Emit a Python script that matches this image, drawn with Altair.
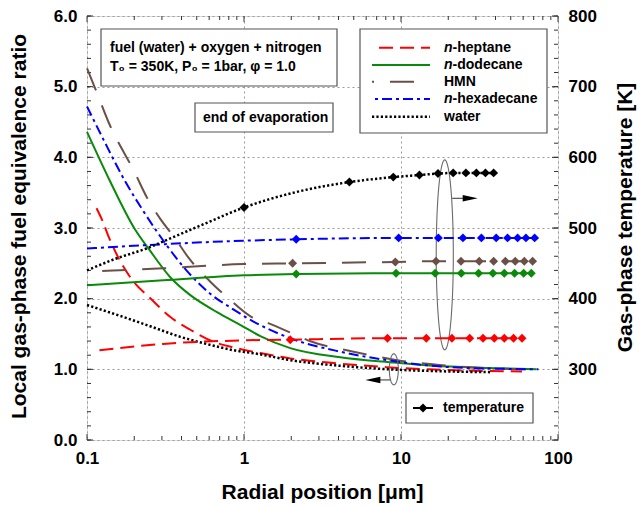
import altair as alt
import numpy as np
import pandas as pd

# ---- local gas-phase fuel equivalence ratio vs radial position [um] ----
heptane_phi_r = [0.115, 0.125, 0.136, 0.161, 0.189, 0.26, 0.34, 0.455, 0.64, 0.9, 1.27, 1.97, 3.9, 8.15, 15, 30, 59]
heptane_phi = [3.28, 3.11, 2.90, 2.55, 2.30, 1.98, 1.74, 1.56, 1.39, 1.30, 1.23, 1.155, 1.085, 1.03, 1.0, 0.98, 0.97]

dodecane_phi_r = [0.1, 0.139, 0.201, 0.25, 0.34, 0.455, 0.673, 0.945, 1.27, 1.97, 4.1, 8.5, 16, 35, 73]
dodecane_phi = [4.36, 3.68, 2.99, 2.69, 2.30, 2.05, 1.81, 1.63, 1.47, 1.30, 1.17, 1.10, 1.05, 1.02, 1.0]

hmn_phi_r = [0.1, 0.113, 0.137, 0.203, 0.241, 0.293, 0.365, 0.443, 0.61, 0.80, 1.1, 1.44, 2.12, 2.71, 4.99, 9.5, 20, 40, 72]
hmn_phi = [5.26, 4.97, 4.50, 3.77, 3.43, 3.13, 2.85, 2.58, 2.24, 2.0, 1.75, 1.65, 1.49, 1.39, 1.25, 1.13, 1.05, 1.01, 1.0]

hexadecane_phi_r = [0.1, 0.128, 0.175, 0.233, 0.328, 0.43, 0.625, 0.84, 1.1, 1.97, 4.1, 8.15, 20.6, 40, 75]
hexadecane_phi = [4.72, 4.24, 3.66, 3.21, 2.73, 2.40, 2.05, 1.86, 1.70, 1.44, 1.25, 1.13, 1.03, 1.01, 1.0]

water_phi_r = [0.1, 0.171, 0.26, 0.393, 0.553, 0.86, 1.21, 1.97, 4.1, 8.5, 20, 38]
water_phi = [1.91, 1.74, 1.60, 1.46, 1.37, 1.27, 1.22, 1.13, 1.05, 1.0, 0.97, 0.96]

# ---- gas-phase temperature [K]: profile points and marked points ----
heptane_T_r = [0.12, 0.306, 1.0]
heptane_T = [327, 336, 341]
heptane_mark_r = [1.97, 8.2, 14.5, 21.1, 27.4, 33.3, 39.3, 45.5, 52.1, 59.0]
heptane_mark_T = [342, 344, 344, 344, 344, 344, 344, 344, 344, 344]

dodecane_T_r = [0.1, 0.306, 1.0]
dodecane_T = [419, 426, 433]
dodecane_mark_r = [2.15, 9.3, 16.5, 24.2, 31.2, 38.5, 45.5, 52.9, 60.4, 67.6]
dodecane_mark_T = [435, 436, 436, 436, 436, 436, 436, 436, 436, 436]

hmn_T_r = [0.125, 0.306, 1.0]
hmn_T = [439, 443, 449]
hmn_mark_r = [2.04, 9.2, 16.7, 24.1, 31.5, 38.9, 46.2, 53.4, 61.0, 68.9]
hmn_mark_T = [450, 452, 453, 453, 453, 453, 453, 453, 453, 453]

hexadecane_T_r = [0.1, 0.306, 0.575, 1.0]
hexadecane_T = [471, 477, 480, 482]
hexadecane_mark_r = [2.15, 9.67, 17.3, 24.8, 32.5, 40.4, 47.7, 55.3, 62.5, 71.0]
hexadecane_mark_T = [484, 486, 486, 486, 486, 486, 486, 486, 486, 486]

water_T_r = [0.1, 0.15, 0.239, 0.371, 0.548, 2.07]
water_T = [440, 456, 471, 489, 505, 550]
water_mark_r = [1.0, 4.69, 8.93, 13.1, 17.2, 21.5, 25.9, 30.2, 34.5, 38.9]
water_mark_T = [529, 565, 572, 575, 577, 578, 578, 578, 578, 578]

W, H = 471, 424
FONT = "Liberation Sans"
X_SCALE = alt.Scale(type="log", domain=[0.1, 100])
PHI_SCALE = alt.Scale(domain=[0, 6])
T_SCALE = alt.Scale(domain=[200, 800])

# ---- axes: every layer shares the same axis definitions ----
label_style = dict(labelFont=FONT, labelFontSize=17, labelFontWeight="bold", labelColor="black",
                   labelFlush=False, labelOverlap=False, ticks=False, tickSize=0, domain=False,
                   titleFont=FONT, titleFontSize=21, titleFontWeight="bold", titleColor="black")

X_AXIS = alt.Axis(values=[0.1, 1, 10, 100], format="~g", labelPadding=10, grid=True,
                  gridDash=[2, 3], gridColor="#9a9a9a", gridWidth=1,
                  title="Radial position [μm]", titleX=235, titleY=52,
                  titleAlign="center", titleBaseline="middle", **label_style)
PHI_AXIS = alt.Axis(values=[0, 1, 2, 3, 4, 5, 6], format=".1f", labelPadding=10, grid=True,
                    gridDash=[2, 3], gridColor="#9a9a9a", gridWidth=1,
                    title="Local gas-phase fuel equivalence ratio", titleAngle=270,
                    titleX=-68, titleY=210, titleAlign="center", titleBaseline="middle", **label_style)
T_AXIS = alt.Axis(orient="right", values=[300, 400, 500, 600, 700, 800], format="d", labelPadding=10,
                  grid=False, title="Gas-phase temperature [K]", titleAngle=270,
                  titleX=67, titleY=201, titleAlign="center", titleBaseline="middle", **label_style)


def xr(field="r"):
    return alt.X(f"{field}:Q", scale=X_SCALE, axis=X_AXIS)


def yphi(field="v"):
    return alt.Y(f"{field}:Q", scale=PHI_SCALE, axis=PHI_AXIS)


def yT(field="T"):
    return alt.Y(f"{field}:Q", scale=T_SCALE, axis=T_AXIS)


STYLES = {
    "heptane": dict(color="#ff0000", strokeDash=[14, 7], strokeWidth=2, legend_offset=14),
    "dodecane": dict(color="#0a8a0a", strokeWidth=2, legend_offset=0),
    "hmn": dict(color="#6b5048", strokeDash=[24, 16], strokeWidth=2, legend_offset=22),
    "hexadecane": dict(color="#0000ff", strokeDash=[10, 4, 3, 4], strokeWidth=2, legend_offset=11),
    "water": dict(color="#000000", strokeDash=[2.2, 2.2], strokeWidth=2.5, legend_offset=0),
}

SERIES = {
    "heptane": (heptane_phi_r, heptane_phi, heptane_T_r, heptane_T, heptane_mark_r, heptane_mark_T),
    "dodecane": (dodecane_phi_r, dodecane_phi, dodecane_T_r, dodecane_T, dodecane_mark_r, dodecane_mark_T),
    "hmn": (hmn_phi_r, hmn_phi, hmn_T_r, hmn_T, hmn_mark_r, hmn_mark_T),
    "hexadecane": (hexadecane_phi_r, hexadecane_phi, hexadecane_T_r, hexadecane_T, hexadecane_mark_r, hexadecane_mark_T),
    "water": (water_phi_r, water_phi, water_T_r, water_T, water_mark_r, water_mark_T),
}


def line_props(name):
    st = STYLES[name]
    props = dict(color=st["color"], strokeWidth=st["strokeWidth"], strokeCap="butt")
    if "strokeDash" in st:
        props["strokeDash"] = st["strokeDash"]
    return props


one_row = pd.DataFrame({"k": [0]})

phi_layers = []
t_layers = []
for name, (pr, pv, tr, tv, mr, mv) in SERIES.items():
    phi_df = pd.DataFrame({"r": pr, "v": pv})
    phi_layers.append(
        alt.Chart(phi_df).mark_line(interpolate="monotone", **line_props(name)).encode(x=xr(), y=yphi())
    )
    t_df = pd.DataFrame({"r": list(tr) + list(mr), "T": list(tv) + list(mv)}).sort_values("r")
    t_layers.append(
        alt.Chart(t_df).mark_line(interpolate="monotone", **line_props(name)).encode(x=xr(), y=yT())
    )
    m_df = pd.DataFrame({"r": mr, "T": mv})
    t_layers.append(
        alt.Chart(m_df).mark_point(shape="diamond", filled=True, size=80, opacity=1,
                                   color=STYLES[name]["color"]).encode(x=xr(), y=yT())
    )

# ---- inward ticks on all four sides ----
TICK_COLOR = "#333333"
x_major = [0.1, 1, 10, 100]
x_minor = [k * 10.0 ** e for e in (-1, 0, 1) for k in range(2, 10)]
phi_major = list(range(0, 7))
phi_minor = [round(v, 1) for v in np.arange(0, 6.01, 0.2)]
t_major = list(range(200, 801, 100))
t_minor = list(range(200, 801, 20))


def x_ticks(vals, length):
    df = pd.DataFrame({"r": vals})
    base = alt.Chart(df).mark_rule(color=TICK_COLOR, strokeWidth=1)
    bottom = base.encode(x=xr(), y=alt.value(H), y2=alt.value(H - length))
    top = base.encode(x=xr(), y=alt.value(0), y2=alt.value(length))
    return [bottom, top]


def y_ticks(vals, enc, field, length, side):
    df = pd.DataFrame({field: vals})
    base = alt.Chart(df).mark_rule(color=TICK_COLOR, strokeWidth=1)
    if side == "left":
        return base.encode(y=enc(field), x=alt.value(0), x2=alt.value(length))
    return base.encode(y=enc(field), x=alt.value(W - length), x2=alt.value(W))


tick_layers = x_ticks(x_minor, 4) + x_ticks(x_major, 6)
tick_layers += [y_ticks(phi_minor, yphi, "v", 4, "left"), y_ticks(phi_major, yphi, "v", 6, "left")]
right_ticks = [y_ticks(t_minor, yT, "T", 4, "right"), y_ticks(t_major, yT, "T", 6, "right")]


# ---- ellipses and arrows pointing each curve group to its axis ----
def ellipse_path(aspect):
    t = np.linspace(0, 2 * np.pi, 73)
    pts = [f"{aspect * np.sin(a):.4f},{-np.cos(a):.4f}" for a in t]
    return "M" + " L".join(pts) + " Z"


ELLIPSE_COLOR = "#6a6a6a"
ell_T = alt.Chart(pd.DataFrame({"r": [19.0], "v": [2.62]})).mark_point(
    shape=ellipse_path(0.09), size=190 ** 2, filled=False, color=ELLIPSE_COLOR, strokeWidth=1.1, opacity=1
).encode(x=xr(), y=yphi())
ell_phi = alt.Chart(pd.DataFrame({"r": [9.0], "v": [1.0]})).mark_point(
    shape=ellipse_path(0.29), size=31 ** 2, filled=False, color=ELLIPSE_COLOR, strokeWidth=1.1, opacity=1
).encode(x=xr(), y=yphi())

arrows = pd.DataFrame({"r0": [21.2, 8.55], "r1": [27.5, 6.5], "v": [3.42, 0.85]})
arrow_shafts = alt.Chart(arrows).mark_rule(color="#444444", strokeWidth=1.1).encode(
    x=xr("r0"), x2="r1:Q", y=yphi())
head_right = alt.Chart(pd.DataFrame({"r": [30.8], "v": [3.42]})).mark_point(
    shape="M0,0 L-2,-0.43 L-2,0.43 Z", size=225, filled=True, color="black", opacity=1
).encode(x=xr(), y=yphi())
head_left = alt.Chart(pd.DataFrame({"r": [5.93], "v": [0.85]})).mark_point(
    shape="M0,0 L2,-0.43 L2,0.43 Z", size=225, filled=True, color="black", opacity=1
).encode(x=xr(), y=yphi())


# ---- text boxes and legends ----
def box(x0, x1, y0, y1):
    return alt.Chart(one_row).mark_rect(fill="white", stroke="#555555", strokeWidth=1.2).encode(
        x=alt.value(x0), x2=alt.value(x1), y=alt.value(y0), y2=alt.value(y1))


def label(txt, x, y, style="normal", size=14):
    return alt.Chart(one_row).mark_text(
        text=txt, align="left", baseline="middle", font=FONT, fontSize=size,
        fontWeight="bold", fontStyle=style, color="black"
    ).encode(x=alt.value(x), y=alt.value(y))


overlay = [
    box(14, 250, 13, 70),
    label("fuel (water) + oxygen + nitrogen", 23, 32),
    label("T₀ = 350K, P₀ = 1bar, φ = 1.0", 23, 51),
    box(108, 246, 87, 116),
    label("end of evaporation", 116, 102),
    box(273, 460, 13, 117),
]

legend_rows = [
    ("heptane", "n", "-heptane"),
    ("dodecane", "n", "-dodecane"),
    ("hmn", "", "HMN"),
    ("hexadecane", "n", "-hexadecane"),
    ("water", "", "water"),
]
row_y = [31.7, 49, 65.7, 83, 100.7]
for (name, ital, rest), yy in zip(legend_rows, row_y):
    props = line_props(name)
    props["strokeDashOffset"] = STYLES[name]["legend_offset"]
    overlay.append(
        alt.Chart(one_row).mark_rule(**props).encode(x=alt.value(285), x2=alt.value(343), y=alt.value(yy))
    )
    if ital:
        overlay.append(label(ital, 357, yy, style="italic"))
        overlay.append(label(rest, 365.6, yy))
    else:
        overlay.append(label(rest, 357, yy))

overlay += [
    box(319, 446, 377, 407),
    alt.Chart(one_row).mark_rule(color="black", strokeWidth=2).encode(
        x=alt.value(326), x2=alt.value(346), y=alt.value(392)),
    alt.Chart(one_row).mark_point(shape="diamond", filled=True, size=80, color="black", opacity=1).encode(
        x=alt.value(336), y=alt.value(392)),
    label("temperature", 356, 392),
]

left = alt.layer(*tick_layers, *phi_layers, ell_T, ell_phi, arrow_shafts, head_right, head_left, *overlay)
right = alt.layer(*right_ticks, *t_layers)

chart = (
    alt.layer(left, right)
    .resolve_scale(y="independent")
    .properties(width=W, height=H, autosize="none",
                padding={"left": 87, "top": 16, "right": 80, "bottom": 67})
    .configure_view(stroke="#222222", strokeWidth=1.5)
    .configure(font=FONT, background="white")
)

chart.save("out.html", embed_options={"renderer": "svg", "actions": False})
